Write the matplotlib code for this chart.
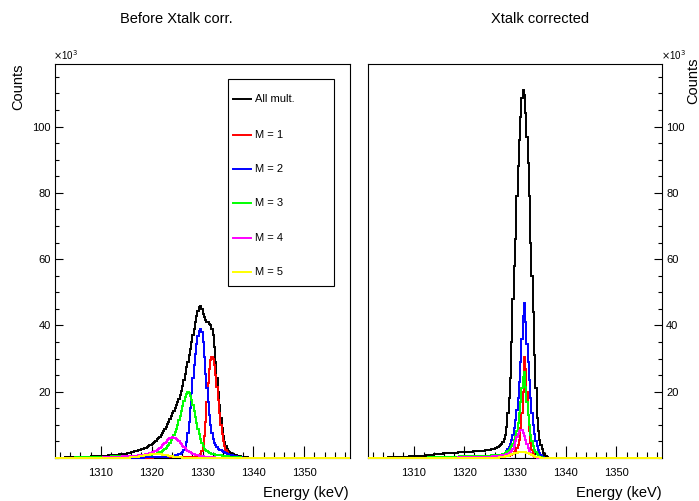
import numpy as np
import matplotlib
matplotlib.use("Agg")
import matplotlib.pyplot as plt
from matplotlib.patches import Rectangle
from matplotlib.lines import Line2D
from matplotlib.ticker import MultipleLocator

plt.rcParams['font.family'] = ['Liberation Sans', 'DejaVu Sans']

# ---------------- data (counts in units of 10^3, 0.25 keV bins) ----------------
BIN = 0.25
XMIN, XMAX = 1301.0, 1359.0
YMAX = 118.9

titles = ["Before Xtalk corr.", "Xtalk corrected"]
labels = ["All mult.", "M = 1", "M = 2", "M = 3", "M = 4", "M = 5"]
colors = ["#000000", "#ff0000", "#0000ff", "#00ff00", "#ff00ff", "#ffff00"]
x_ticks = [1310, 1320, 1330, 1340, 1350]
y_ticks = [20, 40, 60, 80, 100]

# ---- Before cross-talk correction: first bin lower edge + values (4 bins per keV)
before_all_start = 1303.0
before_all = [0.20, 0.20, 0.20, 0.20,  0.25, 0.25, 0.25, 0.25,  0.30, 0.30, 0.30, 0.30,
              0.35, 0.35, 0.35, 0.40,  0.40, 0.40, 0.45, 0.45,  0.50, 0.50, 0.50, 0.55,
              0.55, 0.60, 0.60, 0.60,  0.65, 0.65, 0.70, 0.70,  0.75, 0.75, 0.80, 0.80,
              0.85, 0.85, 0.90, 0.95,  1.00, 1.05, 1.10, 1.10,  1.15, 1.20, 1.25, 1.30,
              1.35, 1.40, 1.50, 1.60,  1.80, 1.90, 2.00, 2.10,  2.20, 2.30, 2.40, 2.50,
              2.65, 2.80, 2.95, 3.15,  3.40, 3.60, 3.80, 4.05,  4.35, 4.60, 4.90, 5.25,
              5.60, 6.00, 6.40, 6.90,  7.45, 8.10, 8.70, 9.40,  10.2, 10.9, 11.7, 12.6,
              13.5, 14.3, 15.0, 16.0,  16.9, 17.9, 18.9, 20.1,  21.6, 23.4, 25.4, 27.5,
              29.0, 31.0, 33.0, 35.0,  37.0, 39.0, 41.0, 43.0,  44.5, 45.5, 46.0, 45.0,
              43.5, 42.5, 41.5, 41.0,  41.0, 40.5, 40.0, 39.0,  37.0, 33.5, 29.0, 24.0,
              20.0, 16.0, 12.0, 9.0,   6.5, 4.8, 3.6, 2.8,     2.2, 1.8, 1.5, 1.3,
              1.1, 0.95, 0.8, 0.7,     0.6, 0.5, 0.45, 0.4,    0.35, 0.3, 0.25, 0.2,
              0.15, 0.1, 0.05, 0.05]
before_m1_start = 1316.0
before_m1 = [0.10, 0.10, 0.10, 0.10,  0.15, 0.15, 0.15, 0.15,  0.15, 0.15, 0.15, 0.15,
             0.15, 0.15, 0.15, 0.15,  0.15, 0.20, 0.20, 0.20,  0.20, 0.20, 0.20, 0.20,
             0.20, 0.20, 0.20, 0.20,  0.20, 0.20, 0.20, 0.20,  0.20, 0.20, 0.20, 0.20,
             0.20, 0.20, 0.20, 0.20,  0.20, 0.20, 0.25, 0.25,  0.25, 0.25, 0.30, 0.30,
             0.35, 0.40, 0.45, 0.50,  0.60, 0.75, 1.2, 2.0,    3.5, 6.5, 11.0, 17.0,
             22.5, 27.0, 29.5, 30.5,  30.0, 28.0, 25.0, 21.5,  17.5, 13.5, 10.0, 7.2,
             5.0, 3.5, 2.4, 1.7,      1.2, 0.8, 0.5, 0.35,    0.2, 0.1]
before_m2_start = 1316.0
before_m2 = [0.10, 0.10, 0.10, 0.10,  0.10, 0.12, 0.12, 0.14,  0.15, 0.15, 0.16, 0.17,
             0.18, 0.19, 0.20, 0.21,  0.22, 0.23, 0.24, 0.25,  0.26, 0.27, 0.28, 0.29,
             0.30, 0.32, 0.35, 0.38,  0.42, 0.46, 0.50, 0.55,  0.60, 0.70, 0.80, 0.90,
             1.00, 1.15, 1.30, 1.50,  1.80, 2.40, 3.30, 4.80,  7.5, 11.0, 15.0, 19.5,
             24.0, 28.0, 31.5, 34.5,  36.8, 38.3, 39.0, 38.0,  35.0, 30.5, 25.5, 21.0,
             17.0, 13.0, 10.0, 7.5,   5.8, 4.6, 3.8, 3.2,     2.8, 2.5, 2.3, 2.1,
             1.9, 1.7, 1.5, 1.35,     1.2, 1.05, 0.95, 0.85,  0.75, 0.65, 0.55, 0.45,
             0.35, 0.3, 0.2, 0.15,    0.1]
before_m3_start = 1305.0
before_m3 = [0.20, 0.20, 0.20, 0.20,  0.20, 0.22, 0.24, 0.25,  0.25, 0.27, 0.28, 0.30,
             0.30, 0.30, 0.32, 0.33,  0.35, 0.35, 0.36, 0.38,  0.40, 0.40, 0.40, 0.42,
             0.43, 0.44, 0.45, 0.45,  0.46, 0.48, 0.50, 0.50,  0.50, 0.50, 0.52, 0.53,
             0.55, 0.55, 0.56, 0.57,  0.58, 0.60, 0.60, 0.62,  0.64, 0.66, 0.68, 0.70,
             0.72, 0.74, 0.76, 0.78,  0.80, 0.82, 0.85, 0.88,  0.90, 0.95, 1.00, 1.05,
             1.10, 1.15, 1.20, 1.30,  1.40, 1.55, 1.70, 1.90,  2.10, 2.40, 2.70, 3.10,
             3.50, 4.00, 4.60, 5.30,  6.00, 6.90, 7.80, 8.90,  10.0, 11.4, 12.8, 14.3,
             15.8, 17.2, 18.5, 19.3,  19.8, 19.6, 18.8, 17.5,  16.0, 14.3, 12.5, 10.6,
             8.8, 7.2, 5.8, 4.6,      3.5, 2.8, 2.3, 2.0,     1.7, 1.55, 1.4, 1.3,
             1.2, 1.1, 1.0, 0.95,     0.9, 0.85, 0.8, 0.75,   0.7, 0.65, 0.6, 0.55,
             0.5, 0.45, 0.4, 0.35,    0.3, 0.28, 0.25, 0.22,  0.2, 0.18, 0.15, 0.12,
             0.1]
before_m4_start = 1310.0
before_m4 = [0.15, 0.15, 0.18, 0.20,  0.20, 0.22, 0.24, 0.25,  0.28, 0.30, 0.30, 0.32,
             0.35, 0.37, 0.40, 0.42,  0.45, 0.47, 0.50, 0.52,  0.55, 0.57, 0.60, 0.62,
             0.65, 0.67, 0.70, 0.72,  0.75, 0.77, 0.80, 0.85,  0.90, 0.95, 1.00, 1.10,
             1.20, 1.30, 1.40, 1.55,  1.70, 1.85, 2.00, 2.25,  2.50, 2.80, 3.10, 3.45,
             3.80, 4.20, 4.60, 4.95,  5.30, 5.60, 5.90, 6.05,  6.20, 6.15, 6.00, 5.75,
             5.40, 5.00, 4.60, 4.15,  3.70, 3.30, 2.90, 2.55,  2.20, 1.95, 1.70, 1.50,
             1.30, 1.15, 1.00, 0.90,  0.80, 0.70, 0.60, 0.55,  0.50, 0.45, 0.40, 0.35,
             0.30, 0.28, 0.25, 0.22,  0.20, 0.18, 0.15, 0.12,  0.10]
before_m5_start = 1315.0
before_m5 = [0.10, 0.12, 0.15, 0.18,  0.20, 0.25, 0.30, 0.35,  0.40, 0.45, 0.50, 0.57,
             0.65, 0.72, 0.80, 0.88,  0.95, 1.00, 1.05, 1.10,  1.15, 1.18, 1.20, 1.20,
             1.20, 1.18, 1.15, 1.10,  1.05, 1.00, 0.95, 0.88,  0.80, 0.72, 0.65, 0.57,
             0.50, 0.45, 0.40, 0.35,  0.30, 0.25, 0.20, 0.18,  0.15, 0.12, 0.10, 0.08]

# ---- After cross-talk correction
after_all_start = 1305.0
after_all = [0.20, 0.20, 0.22, 0.25,  0.25, 0.28, 0.30, 0.30,  0.32, 0.35, 0.38, 0.40,
             0.40, 0.42, 0.45, 0.45,  0.48, 0.50, 0.50, 0.52,  0.55, 0.55, 0.58, 0.60,
             0.60, 0.62, 0.65, 0.68,  0.70, 0.75, 0.80, 0.85,  0.90, 0.95, 1.00, 1.05,
             1.10, 1.15, 1.20, 1.25,  1.30, 1.32, 1.35, 1.38,  1.40, 1.42, 1.45, 1.48,
             1.50, 1.52, 1.55, 1.58,  1.60, 1.62, 1.65, 1.68,  1.70, 1.72, 1.75, 1.78,
             1.80, 1.82, 1.85, 1.88,  1.90, 1.92, 1.95, 1.98,  2.00, 2.02, 2.05, 2.08,
             2.10, 2.15, 2.20, 2.25,  2.30, 2.35, 2.40, 2.45,  2.50, 2.60, 2.70, 2.80,
             2.90, 3.00, 3.20, 3.50,  3.90, 4.20, 4.80, 5.60,  7.0, 9.5, 13.5, 18.0,
             24.0, 35.0, 48.0, 58.0,  66.0, 79.0, 88.0, 96.0,  103.0, 108.5, 111.0, 109.5,
             104.0, 97.0, 89.0, 79.0, 65.0, 55.0, 44.0, 31.0,  21.0, 12.0, 8.0, 5.5,
             4.0, 2.6, 1.6, 0.9,      0.5, 0.25, 0.1, 0.05]
after_m1_start = 1326.0
after_m1 = [0.10, 0.15, 0.20, 0.25,  0.30, 0.35, 0.40, 0.45,  0.50, 0.55, 0.60, 0.70,
            0.80, 1.00, 1.30, 1.70,  2.20, 2.90, 3.80, 5.50,  9.0, 13.5, 20.0, 30.5,
            27.0, 20.0, 13.0, 8.0,   4.5, 2.5, 1.3, 0.7,     0.35, 0.15, 0.1]
after_m2_start = 1316.0
after_m2 = [0.10, 0.10, 0.10, 0.12,  0.12, 0.13, 0.14, 0.15,  0.15, 0.16, 0.17, 0.18,
            0.18, 0.19, 0.20, 0.20,  0.21, 0.22, 0.23, 0.24,  0.25, 0.26, 0.27, 0.28,
            0.29, 0.30, 0.31, 0.32,  0.33, 0.34, 0.35, 0.36,  0.37, 0.38, 0.39, 0.40,
            0.42, 0.44, 0.46, 0.48,  0.50, 0.60, 0.70, 0.80,  0.90, 1.00, 1.15, 1.30,
            1.5, 2.0, 2.6, 3.4,      4.3, 5.4, 7.0, 9.0,      11.5, 14.5, 18.0, 23.0,
            29.0, 36.0, 43.0, 46.7,  41.0, 34.5, 29.0, 23.5,  18.0, 13.5, 10.0, 7.2,
            5.0, 3.5, 2.3, 1.4,      0.8, 0.45, 0.25, 0.1]
after_m3_start = 1312.0
after_m3 = [0.10, 0.12, 0.15, 0.18,  0.20, 0.22, 0.25, 0.28,  0.30, 0.30, 0.32, 0.33,
            0.35, 0.35, 0.36, 0.37,  0.38, 0.38, 0.39, 0.40,  0.40, 0.41, 0.42, 0.42,
            0.43, 0.44, 0.45, 0.45,  0.46, 0.47, 0.48, 0.48,  0.50, 0.50, 0.51, 0.52,
            0.53, 0.54, 0.55, 0.55,  0.56, 0.57, 0.58, 0.60,  0.60, 0.62, 0.63, 0.65,
            0.66, 0.68, 0.70, 0.72,  0.74, 0.76, 0.78, 0.80,  0.82, 0.85, 0.88, 0.92,
            0.95, 1.00, 1.10, 1.25,  1.4, 1.7, 2.0, 2.4,     2.9, 3.5, 4.3, 5.3,
            6.5, 8.0, 10.5, 13.5,    17.0, 21.0, 24.5, 26.0,  21.5, 17.0, 13.0, 10.0,
            7.0, 5.0, 3.5, 2.5,      1.7, 1.1, 0.7, 0.4,     0.2, 0.1]
after_m4_start = 1318.0
after_m4 = [0.10, 0.12, 0.14, 0.16,  0.18, 0.20, 0.21, 0.22,  0.23, 0.24, 0.25, 0.26,
            0.27, 0.28, 0.29, 0.30,  0.31, 0.32, 0.33, 0.34,  0.35, 0.36, 0.37, 0.38,
            0.39, 0.40, 0.41, 0.42,  0.43, 0.45, 0.47, 0.50,  0.53, 0.56, 0.60, 0.65,
            0.70, 0.78, 0.86, 0.95,  1.05, 1.20, 1.35, 1.50,  1.80, 2.20, 2.80, 3.80,
            5.20, 6.40, 7.30, 8.00,  8.40, 8.30, 7.60, 6.50,  5.40, 4.10, 3.00, 2.20,
            1.50, 1.00, 0.60, 0.35,  0.20, 0.10]
after_m5_start = 1326.0
after_m5 = [0.10, 0.12, 0.15, 0.20,  0.25, 0.30, 0.35, 0.40,  0.50, 0.60, 0.70, 0.80,
            0.95, 1.10, 1.25, 1.40,  1.55, 1.65, 1.75, 1.85,  1.90, 1.90, 1.85, 1.80,
            1.70, 1.55, 1.40, 1.25,  1.10, 0.90, 0.75, 0.60,  0.45, 0.35, 0.25, 0.18,
            0.12, 0.08]

before = [(before_all_start, before_all), (before_m1_start, before_m1),
          (before_m2_start, before_m2), (before_m3_start, before_m3),
          (before_m4_start, before_m4), (before_m5_start, before_m5)]
after = [(after_all_start, after_all), (after_m1_start, after_m1),
         (after_m2_start, after_m2), (after_m3_start, after_m3),
         (after_m4_start, after_m4), (after_m5_start, after_m5)]

NBINS = int(round((XMAX - XMIN) / BIN))
edges = XMIN + BIN * np.arange(NBINS + 1)


def full_hist(start, vals):
    arr = np.zeros(NBINS)
    i0 = int(round((start - XMIN) / BIN))
    arr[i0:i0 + len(vals)] = vals
    return arr


W, H = 699, 501
fig = plt.figure(figsize=(W / 100, H / 100), dpi=100)


def fx(px):
    return px / W


def fy(py):
    return 1 - py / H


ax1 = fig.add_axes([fx(55), fy(458), fx(295), 394 / H])
ax2 = fig.add_axes([fx(368), fy(458), fx(294), 394 / H])

for ax, data, right in [(ax1, before, False), (ax2, after, True)]:
    for (start, vals), c in zip(data, colors):
        ax.stairs(full_hist(start, vals), edges, color=c, lw=1.4, baseline=None,
                  clip_on=False, zorder=3)
    ax.set_xlim(XMIN, XMAX)
    ax.set_ylim(0, YMAX)
    ax.set_xticks(x_ticks)
    ax.xaxis.set_minor_locator(MultipleLocator(2))
    ax.set_yticks(y_ticks)
    ax.yaxis.set_minor_locator(MultipleLocator(5))
    ax.tick_params(axis='x', which='major', direction='in', length=8.6, width=0.8,
                   labelsize=8, pad=7.5, top=False)
    ax.tick_params(axis='x', which='minor', direction='in', length=4.3, width=0.8,
                   top=False)
    ax.tick_params(axis='y', which='major', direction='in', length=5.8, width=0.8,
                   labelsize=8, pad=3)
    ax.tick_params(axis='y', which='minor', direction='in', length=2.9, width=0.8)
    for s in ax.spines.values():
        s.set_linewidth(0.8)
    if right:
        ax.yaxis.tick_right()
        ax.tick_params(axis='y', which='both', left=False, right=True)
    ax.patch.set_alpha(0)

# titles and axis titles
fig.text(fx(176), fy(19), titles[0], ha='center', va='center', fontsize=10.5)
fig.text(fx(540), fy(19), titles[1], ha='center', va='center', fontsize=10.5)
fig.text(fx(349), fy(493), "Energy (keV)", ha='right', va='center', fontsize=10.5)
fig.text(fx(662), fy(493), "Energy (keV)", ha='right', va='center', fontsize=10.5)
fig.text(fx(18), fy(64), "Counts", ha='center', va='top', rotation=90, fontsize=10.5)
fig.text(fx(693), fy(57), "Counts", ha='center', va='top', rotation=90, fontsize=10.5)
fig.text(fx(53), fy(55), r"$\times$10$^{3}$", ha='left', va='center', fontsize=7)
fig.text(fx(661), fy(55), r"$\times$10$^{3}$", ha='left', va='center', fontsize=7)

# legend (left panel)
fig.patches.append(Rectangle((fx(228), fy(286)), fx(106), 207 / H, transform=fig.transFigure,
                             fill=True, facecolor='white', edgecolor='black', lw=0.8,
                             zorder=5))
entry_y = [99, 135, 169, 203, 238, 272]
for lab, c, yy in zip(labels, colors, entry_y):
    fig.lines.append(Line2D([fx(233), fx(251)], [fy(yy), fy(yy)], color=c, lw=1.4,
                            transform=fig.transFigure, zorder=6))
    fig.text(fx(255), fy(yy), lab, ha='left', va='center', fontsize=8, zorder=6)

fig.savefig("out.png", dpi=100)
